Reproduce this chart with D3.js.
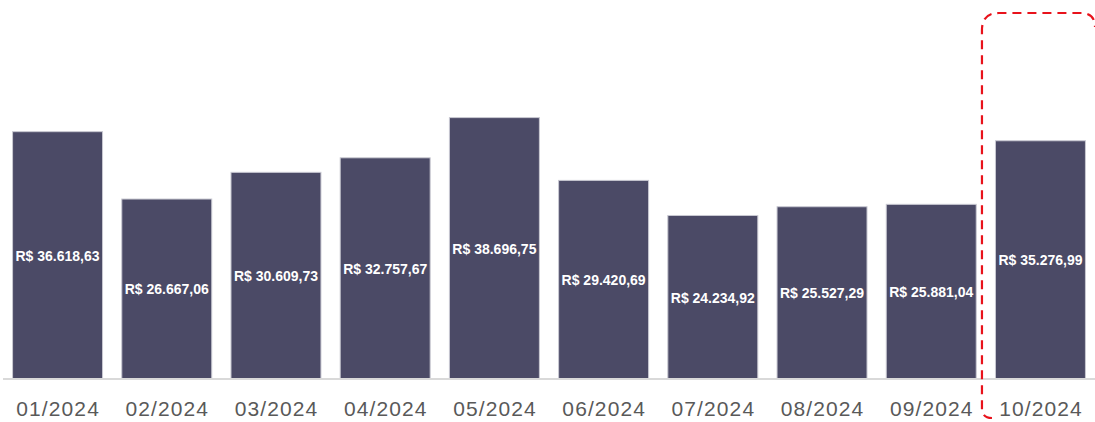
<!DOCTYPE html>
<html lang="pt-BR">
<head>
<meta charset="UTF-8">
<title>Faturamento mensal</title>
<script src="https://cdn.jsdelivr.net/npm/d3@7"></script>
<style>
  body { margin: 0; background: #fff; }
  svg { display: block; }
  .val { font-family: "Liberation Sans", Arial, sans-serif; font-weight: 700; font-size: 14px; fill: #fff; }
  .tick text { font-family: "Liberation Sans", Arial, sans-serif; font-size: 21px; letter-spacing: 1.1px; fill: #595959; }
</style>
</head>
<body>
<svg id="chart"></svg>
<script>
const months = ['01/2024', '02/2024', '03/2024', '04/2024', '05/2024', '06/2024', '07/2024', '08/2024', '09/2024', '10/2024'];
const values = [36618.63, 26667.06, 30609.73, 32757.67, 38696.75, 29420.69, 24234.92, 25527.29, 25881.04, 35276.99];
const highlight = '10/2024';

const width = 1095, height = 422;
const baseY = 379;

const svg = d3.select('#chart').attr('width', width).attr('height', height);

const x = d3.scaleBand()
  .domain(months)
  .range([3, 1095])
  .paddingInner(0.167)
  .paddingOuter(0.083);

const y = d3.scaleLinear().domain([0, 56000]).range([baseY, 0]);

const fmt = v => 'R$ ' + v.toLocaleString('pt-BR', { minimumFractionDigits: 2, maximumFractionDigits: 2 });

// bars
svg.append('g')
  .selectAll('rect')
  .data(values)
  .join('rect')
  .attr('x', (d, i) => x(months[i]) + 0.5)
  .attr('y', d => y(d) + 0.5)
  .attr('width', x.bandwidth() - 1)
  .attr('height', d => baseY - y(d) - 0.5)
  .attr('fill', '#4b4a66')
  .attr('stroke', '#c9c9d2')
  .attr('stroke-width', 1);

// value labels in the middle of each bar
svg.append('g')
  .selectAll('text')
  .data(values)
  .join('text')
  .attr('class', 'val')
  .attr('x', (d, i) => x(months[i]) + x.bandwidth() / 2)
  .attr('y', d => (y(d) + baseY) / 2 + 0.5)
  .attr('dy', '0.36em')
  .attr('text-anchor', 'middle')
  .text(d => fmt(d));

// x axis
const axis = svg.append('g')
  .attr('transform', `translate(0,${baseY})`)
  .call(d3.axisBottom(x).tickSize(0).tickPadding(22));
axis.selectAll('.tick text').attr('dx', '0.55px');
axis.select('.domain').attr('stroke', '#d9d9d9').attr('stroke-width', 2)
  .attr('d', 'M3,0H1095');

// dashed highlight box around last month
const hx = x(highlight) - 13;
const r = 17;
const boxTop = 13, boxBottom = 418;
svg.append('path')
  .attr('d', `M${hx + 10},${boxBottom} Q${hx},${boxBottom} ${hx},${boxBottom - 10} V${boxTop + r} Q${hx},${boxTop} ${hx + r},${boxTop} H${width - 14} Q${width},${boxTop} ${width},${boxTop + 14}`)
  .attr('fill', 'none')
  .attr('stroke', '#e8121b')
  .attr('stroke-width', 2.2)
  .attr('stroke-dasharray', '9,6');
</script>
</body>
</html>
